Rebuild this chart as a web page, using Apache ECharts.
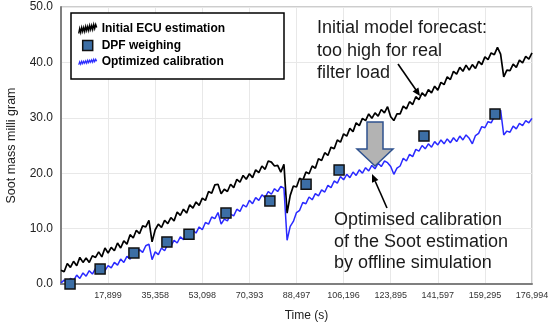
<!DOCTYPE html>
<html><head><meta charset="utf-8">
<script src="https://cdn.jsdelivr.net/npm/echarts/dist/echarts.min.js"></script>
<style>html,body{margin:0;padding:0;background:#fff}#c{width:550px;height:324px}</style>
</head><body><div id="c"></div>
<script>
// ---- data ----
const xTickLabels = ['', '17,899', '35,358', '53,098', '70,393', '88,497', '106,196', '123,895', '141,597', '159,295', '176,994'];
const yTickLabels = ['0.0', '10.0', '20.0', '30.0', '40.0', '50.0'];
const timeMax = 176994;
const sampleStep = 176994 / 150; // sampling interval of the traces (s)

const ecuEstimation = [
 2.5,2.2,3.7,3.0,4.1,3.3,4.8,3.9,4.7,3.9,
 5.1,4.8,5.8,4.9,6.5,5.6,6.6,6.0,7.4,6.5,
 7.8,7.2,8.9,8.3,9.7,9.1,10.5,10.3,11.5,7.6,
 9.8,10.8,10.2,11.5,10.9,12.0,11.4,13.0,12.4,13.5,
 12.8,14.3,13.7,14.8,14.2,15.5,15.1,16.7,16.4,17.9,
 18.0,16.3,17.1,16.7,18.0,17.4,18.9,18.4,19.6,18.9,
 19.9,19.2,20.6,20.1,21.3,20.7,22.2,22.0,21.3,21.4,
 20.2,21.6,12.8,16.0,17.7,17.5,19.1,18.7,20.2,19.9,
 21.3,20.9,22.6,22.3,23.7,23.2,24.7,24.4,26.0,25.6,
 27.1,26.7,28.1,27.5,29.1,28.6,29.9,29.5,30.7,29.9,
 30.9,30.3,31.5,30.9,32.0,30.2,29.5,30.7,30.7,32.1,
 31.6,32.9,32.4,33.8,33.3,34.5,33.9,35.1,34.5,35.7,
 35.0,36.4,36.0,37.4,36.9,38.4,37.9,39.1,38.4,39.5,
 38.6,39.6,38.9,40.2,39.6,41.0,40.5,41.7,41.4,42.7,
 41.5,37.4,38.6,38.5,39.7,39.1,40.4,39.9,41.1,40.6,
 41.7
];
const optimizedCalibration = [
 0.2,0.7,0.2,1.0,0.6,1.6,1.0,2.0,1.4,2.4,
 1.8,2.8,2.2,3.1,2.4,3.3,2.9,3.9,3.4,4.5,
 3.9,5.0,4.5,5.6,5.1,6.2,5.7,6.9,7.2,4.4,
 5.8,5.3,6.5,6.0,7.2,6.8,7.9,7.4,8.5,8.0,
 9.1,8.6,9.7,9.2,10.3,9.8,11.1,10.8,12.1,11.8,
 12.9,10.8,11.7,11.4,12.6,12.3,13.5,13.1,14.3,13.9,
 15.1,14.5,15.6,15.1,16.1,15.6,16.7,16.2,17.2,16.7,
 17.6,17.3,7.9,10.4,11.3,12.9,13.3,14.7,14.5,15.7,
 15.2,16.3,15.9,17.0,16.6,17.8,17.4,18.6,18.2,19.4,
 18.8,19.8,19.2,20.2,19.6,20.6,20.0,21.0,20.4,21.4,
 20.8,21.8,21.2,22.2,21.9,21.2,19.8,20.9,21.3,22.7,
 22.2,23.4,23.0,24.3,24.0,25.0,24.4,25.3,24.7,25.7,
 25.1,26.0,25.3,26.2,25.5,26.4,25.7,26.7,26.0,26.9,
 26.3,25.3,26.8,27.2,28.4,28.2,29.3,29.1,30.2,30.2,
 31.4,26.9,27.6,27.4,28.5,28.0,29.0,28.6,29.5,29.1,
 29.9
];
const dpfTimes = [3400, 14700, 27400, 39800, 48100, 62000, 78500, 92100, 104500, 136400, 163100];
const dpfWeighing = [0.0, 2.7, 5.6, 7.6, 9.0, 12.8, 15.0, 18.0, 20.6, 26.7, 30.7];

const seriesNames = ['Initial ECU estimation', 'DPF weighing', 'Optimized calibration'];

// ---- chart ----
const X_INTERVAL = timeMax / 10;
const font = 'Liberation Sans';
const chart = echarts.init(document.getElementById('c'), null, {renderer: 'canvas'});

const squiggleBlack = 'path://M0,9L1,4L2,8L3,3L4,7L5,3L6,7L7,2L8,6L9,2L10,6L11,1L12,5L13,1L14,5L15,0L16,4L17,0L18,3';
const squiggleBlue = 'path://M0,6L1,3L2,5.5L3,2.5L4,5L5,2.5L6,4.5L7,2L8,4.5L9,1.5L10,4L11,1.5L12,3.5L13,1L14,3.5L15,0.5L16,3L17,0.5L18,2.5';

chart.setOption({
  animation: false,
  textStyle: {fontFamily: font},
  grid: {left: 61, right: 18, top: 7, bottom: 40, show: true, borderColor: '#9a9a9a', borderWidth: 1,
         containLabel: false, outerBoundsMode: 'none'},
  legend: {
    orient: 'vertical', left: 78, top: 23, padding: 0, itemGap: 4.5,
    itemWidth: 18, itemHeight: 10, z: 6,
    textStyle: {fontFamily: font, fontSize: 12, fontWeight: 'bold', color: '#000'},
    data: [
      {name: seriesNames[0], icon: squiggleBlack, itemStyle: {color: 'rgba(0,0,0,0)', borderColor: '#000', borderWidth: 1.4}},
      {name: seriesNames[1], icon: 'path://M0,0H10V10H0Z', itemStyle: {color: '#3c6ea5', borderColor: '#111', borderWidth: 1.5}},
      {name: seriesNames[2], icon: squiggleBlue, itemStyle: {color: 'rgba(0,0,0,0)', borderColor: '#2a2aff', borderWidth: 1.2}}
    ]
  },
  xAxis: {
    type: 'value', min: 0, max: timeMax, interval: X_INTERVAL,
    name: 'Time (s)', nameLocation: 'middle', nameGap: 26,
    nameTextStyle: {fontFamily: font, fontSize: 12, color: '#222', padding: [0, 0, 0, 20]},
    axisLine: {show: true, lineStyle: {color: '#7f7f7f', width: 2}},
    axisTick: {show: false},
    axisLabel: {fontFamily: font, fontSize: 9, color: '#333', margin: 7,
      formatter: v => { const k = Math.round(v / X_INTERVAL); return xTickLabels[k] || ''; }},
    splitLine: {show: true, lineStyle: {color: '#e8e8e8', width: 1}}
  },
  yAxis: {
    type: 'value', min: 0, max: 50, interval: 10,
    name: 'Soot mass milli gram', nameLocation: 'middle', nameGap: 43, nameRotate: 90,
    nameTextStyle: {fontFamily: font, fontSize: 12.5, color: '#222'},
    axisLine: {show: true, lineStyle: {color: '#7f7f7f', width: 2}},
    axisTick: {show: false},
    axisLabel: {fontFamily: font, fontSize: 12, color: '#222', margin: 8,
      formatter: v => yTickLabels[Math.round(v / 10)]},
    splitLine: {show: true, lineStyle: {color: '#e8e8e8', width: 1}}
  },
  series: [
    {name: seriesNames[0], type: 'line', symbol: 'none', z: 3,
     lineStyle: {color: '#000', width: 1.7}, itemStyle: {color: '#000'},
     data: ecuEstimation.map((v, i) => [i * sampleStep, v])},
    {name: seriesNames[2], type: 'line', symbol: 'none', z: 3,
     lineStyle: {color: '#2a2aff', width: 1.5}, itemStyle: {color: '#2a2aff'},
     data: optimizedCalibration.map((v, i) => [i * sampleStep, v])},
    {name: seriesNames[1], type: 'scatter', symbol: 'rect', symbolSize: 10, z: 4,
     itemStyle: {color: '#3c6ea5', borderColor: '#111', borderWidth: 1.5, opacity: 1},
     data: dpfTimes.map((t, i) => [t, dpfWeighing[i]])}
  ],
  graphic: [
    {type: 'rect', z: 5, shape: {x: 71, y: 13, width: 213, height: 66},
     style: {fill: '#fff', stroke: '#000', lineWidth: 1.5}},
    {type: 'text', z: 7, left: 317, top: 17,
     style: {text: 'Initial model forecast:\ntoo high for real\nfilter load', font: '18px "Liberation Sans"', fill: '#1a1a1a', lineHeight: 22.5}},
    {type: 'text', z: 7, left: 334, top: 209,
     style: {text: 'Optimised calibration\nof the Soot estimation\nby offline simulation', font: '18px "Liberation Sans"', fill: '#1a1a1a', lineHeight: 21.8}},
    {type: 'line', z: 7, shape: {x1: 398, y1: 64, x2: 416, y2: 90}, style: {stroke: '#000', lineWidth: 1.6}},
    {type: 'polygon', z: 7, shape: {points: [[420, 96], [412.6, 91.4], [418.4, 87.4]]}, style: {fill: '#000'}},
    {type: 'line', z: 7, shape: {x1: 387, y1: 208, x2: 375.2, y2: 181.3}, style: {stroke: '#000', lineWidth: 1.6}},
    {type: 'polygon', z: 7, shape: {points: [[372, 174], [378.4, 179.9], [372.0, 182.7]]}, style: {fill: '#000'}},
    {type: 'polygon', z: 7, shape: {points: [[367, 122], [383, 122], [383, 149], [393, 149], [375, 166], [357, 149], [367, 149]]},
     style: {fill: '#b3b3b3', stroke: '#2f528f', lineWidth: 1.5}}
  ]
});
</script>
</body></html>
